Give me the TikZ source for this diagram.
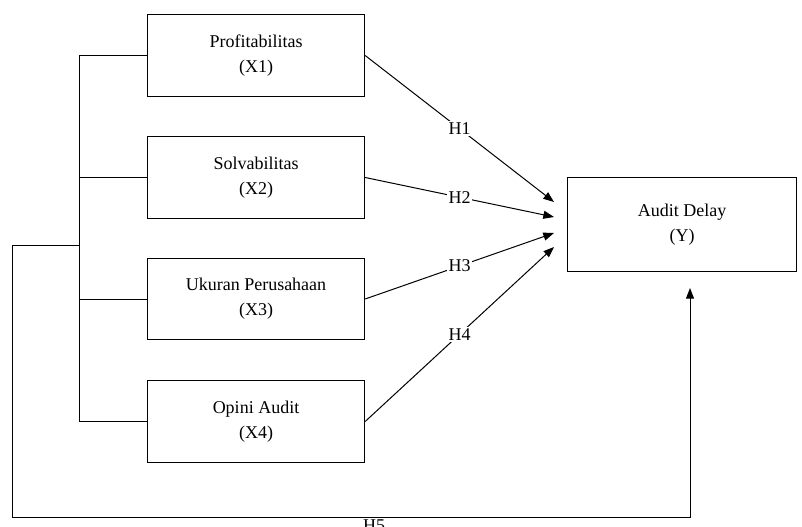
\documentclass[tikz,border=0pt]{standalone}
\usepackage{fontspec}
\setmainfont{Liberation Serif}
\usetikzlibrary{arrows.meta}

\tikzset{every picture/.style={line width=0.75pt}}
\tikzset{
  varbox/.style={draw, minimum width=163pt, minimum height=61pt, inner sep=0.75pt, align=center, font=\fontsize{13.5}{18.75}\selectfont},
  hlabel/.style={fill=white, inner sep=1pt, font=\fontsize{13.5}{15}\selectfont},
  hyp/.style={-{Triangle[length=8pt,width=6pt]}}
}

\begin{document}
\begin{tikzpicture}[x=0.75pt,y=0.75pt,yscale=-1,xscale=1]
\useasboundingbox (0,0) rectangle (802,527);

% Shape: Rectangle
\node [varbox] (prof) at (256,55.5) {Profitabilitas\\(X1)};
% Shape: Rectangle
\node [varbox] (solv) at (256,177.5) {Solvabilitas\\(X2)};
% Shape: Rectangle
\node [varbox] (ukur) at (256,299) {Ukuran Perusahaan\\(X3)};
% Shape: Rectangle
\node [varbox] (opini) at (256,421.5) {Opini Audit\\(X4)};
% Shape: Rectangle
\node [varbox, minimum width=172pt, minimum height=71pt] (delay) at (682,224.5) {Audit Delay\\(Y)};

% arrow ends
\coordinate (t1) at (554,202);
\coordinate (t2) at (554,217);
\coordinate (t3) at (554,233);
\coordinate (t4) at (554,247);
\coordinate (t5) at (690,288);

% left bracket
\coordinate (top) at (79.5,55.5);
\coordinate (bot) at (79.5,421.5);
\coordinate (mid) at (79.5,245);
\coordinate (c1) at (12,245);
\coordinate (c2) at (12,517);
\coordinate (c3) at (690,517);

%Straight Lines
\draw (top) -- (bot) ;
\draw (top) -- (prof.west) ;
\draw (79.5,177.5) -- (solv.west) ;
\draw (79.5,299) -- (ukur.west) ;
\draw (bot) -- (opini.west) ;

%Straight Lines
\draw [hyp] (prof.east) -- node [hlabel] {H1} (t1) ;
\draw [hyp] (solv.east) -- node [hlabel] {H2} (t2) ;
\draw [hyp] (ukur.east) -- node [hlabel] {H3} (t3) ;
\draw [hyp] (opini.east) -- node [hlabel] {H4} (t4) ;

%Straight Lines
\draw [hyp] (mid) -- (c1) -- (c2) -- (c3) -- (t5) ;

% Text Node
\node [anchor=north, inner sep=0.75pt, font=\fontsize{13.5}{15}\selectfont] (h5) at (374,518) {H5};

\end{tikzpicture}
\end{document}
